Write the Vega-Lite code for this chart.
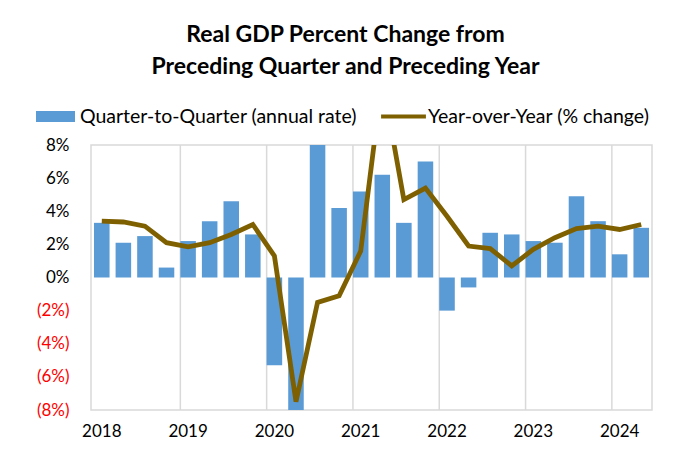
{
  "$schema": "https://vega.github.io/schema/vega-lite/v6.json",
  "width": 561,
  "height": 265,
  "autosize": {"type": "none"},
  "padding": {"left": 91, "top": 145, "right": 37, "bottom": 52},
  "background": "white",
  "config": {
    "font": "Lato",
    "view": {"stroke": "#d9d9d9", "strokeWidth": 1.5}
  },
  "title": {
    "text": ["Real GDP Percent Change from", "Preceding Quarter and Preceding Year"],
    "fontSize": 23,
    "fontWeight": "bold",
    "color": "#000000",
    "anchor": "middle",
    "frame": "group",
    "dx": -26,
    "lineHeight": 32,
    "offset": 18
  },
  "datasets": {
    "gdp": [
      {"q": "2018Q1", "qq": 3.3, "yoy": 3.4},
      {"q": "2018Q2", "qq": 2.1, "yoy": 3.35},
      {"q": "2018Q3", "qq": 2.5, "yoy": 3.1},
      {"q": "2018Q4", "qq": 0.6, "yoy": 2.1},
      {"q": "2019Q1", "qq": 2.2, "yoy": 1.85},
      {"q": "2019Q2", "qq": 3.4, "yoy": 2.1},
      {"q": "2019Q3", "qq": 4.6, "yoy": 2.6},
      {"q": "2019Q4", "qq": 2.6, "yoy": 3.2},
      {"q": "2020Q1", "qq": -5.3, "yoy": 1.3},
      {"q": "2020Q2", "qq": -28.0, "yoy": -7.5},
      {"q": "2020Q3", "qq": 34.8, "yoy": -1.5},
      {"q": "2020Q4", "qq": 4.2, "yoy": -1.1},
      {"q": "2021Q1", "qq": 5.2, "yoy": 1.6},
      {"q": "2021Q2", "qq": 6.2, "yoy": 12.0},
      {"q": "2021Q3", "qq": 3.3, "yoy": 4.7},
      {"q": "2021Q4", "qq": 7.0, "yoy": 5.4},
      {"q": "2022Q1", "qq": -2.0, "yoy": 3.7},
      {"q": "2022Q2", "qq": -0.6, "yoy": 1.9},
      {"q": "2022Q3", "qq": 2.7, "yoy": 1.75},
      {"q": "2022Q4", "qq": 2.6, "yoy": 0.7},
      {"q": "2023Q1", "qq": 2.2, "yoy": 1.7},
      {"q": "2023Q2", "qq": 2.1, "yoy": 2.4},
      {"q": "2023Q3", "qq": 4.9, "yoy": 2.95},
      {"q": "2023Q4", "qq": 3.4, "yoy": 3.1},
      {"q": "2024Q1", "qq": 1.4, "yoy": 2.9},
      {"q": "2024Q2", "qq": 3.0, "yoy": 3.2}
    ],
    "years": [
      {"q": "2019Q1"}, {"q": "2020Q1"}, {"q": "2021Q1"},
      {"q": "2022Q1"}, {"q": "2023Q1"}, {"q": "2024Q1"}
    ]
  },
  "encoding": {
    "x": {
      "field": "q",
      "type": "ordinal",
      "title": null,
      "scale": {"paddingInner": 0.28, "paddingOuter": 0.14},
      "axis": {
        "labelExpr": "substring(datum.value, 4) == 'Q1' ? substring(datum.value, 0, 4) : ''",
        "labelAngle": 0,
        "labelFontSize": 17,
        "labelColor": "#000000",
        "labelPadding": 13,
        "labelOverlap": false,
        "ticks": false,
        "domain": false,
        "grid": false
      }
    }
  },
  "layer": [
    {
      "data": {"name": "years"},
      "mark": {"type": "rule", "color": "#d9d9d9", "strokeWidth": 1.5},
      "encoding": {"x": {"field": "q", "type": "ordinal", "bandPosition": 0}}
    },
    {
      "data": {"name": "gdp"},
      "mark": {"type": "bar", "clip": true},
      "encoding": {
        "y": {
          "field": "qq",
          "type": "quantitative",
          "title": null,
          "scale": {"domain": [-8, 8], "nice": false},
          "axis": {
            "values": [-8, -6, -4, -2, 0, 2, 4, 6, 8],
            "labelExpr": "datum.value < 0 ? '(' + abs(datum.value) + '%)' : datum.value + '%'",
            "labelColor": {"condition": {"test": "datum.value < 0", "value": "#FF0000"}, "value": "#000000"},
            "labelFontSize": 17,
            "labelPadding": 22,
            "labelOverlap": false,
            "labelFlush": false,
            "ticks": false,
            "domain": false,
            "grid": false
          }
        },
        "color": {
          "datum": "Quarter-to-Quarter (annual rate)",
          "type": "nominal",
          "scale": {
            "domain": ["Quarter-to-Quarter (annual rate)", "Year-over-Year (% change)"],
            "range": ["#5B9BD5", "#7F6000"]
          },
          "legend": {
            "title": null,
            "orient": "none",
            "direction": "horizontal",
            "legendX": -55,
            "legendY": -48,
            "labelFontSize": 19.5,
            "labelColor": "#000000",
            "labelLimit": 400,
            "labelOffset": 5,
            "columnPadding": 24,
            "symbolSize": 1521,
            "symbolType": "M-1,-0.28H1V0.28H-1Z",
            "encode": {
              "symbols": {
                "update": {
                  "shape": {"signal": "datum.value === 'Year-over-Year (% change)' ? 'M-1.15,-0.1H1.15V0.1H-1.15Z' : 'M-1,-0.28H1V0.28H-1Z'"},
                  "fill": {"signal": "datum.value === 'Year-over-Year (% change)' ? '#7F6000' : '#5B9BD5'"},
                  "strokeWidth": {"value": 0},
                  "opacity": {"value": 1}
                }
              }
            }
          }
        }
      }
    },
    {
      "data": {"name": "gdp"},
      "mark": {"type": "rule", "color": "#d9d9d9", "strokeWidth": 1.5},
      "encoding": {
        "y": {
          "datum": 0,
          "type": "quantitative",
          "axis": {
            "values": [-8, -6, -4, -2, 0, 2, 4, 6, 8],
            "labelExpr": "datum.value < 0 ? '(' + abs(datum.value) + '%)' : datum.value + '%'",
            "labelColor": {"condition": {"test": "datum.value < 0", "value": "#FF0000"}, "value": "#000000"},
            "labelFontSize": 17,
            "labelPadding": 22,
            "labelOverlap": false,
            "labelFlush": false,
            "ticks": false,
            "domain": false,
            "grid": false
          }
        }
      }
    },
    {
      "data": {"name": "gdp"},
      "mark": {"type": "line", "clip": true, "strokeWidth": 4.8, "strokeJoin": "miter"},
      "encoding": {
        "y": {
          "field": "yoy",
          "type": "quantitative",
          "axis": {
            "values": [-8, -6, -4, -2, 0, 2, 4, 6, 8],
            "labelExpr": "datum.value < 0 ? '(' + abs(datum.value) + '%)' : datum.value + '%'",
            "labelColor": {"condition": {"test": "datum.value < 0", "value": "#FF0000"}, "value": "#000000"},
            "labelFontSize": 17,
            "labelPadding": 22,
            "labelOverlap": false,
            "labelFlush": false,
            "ticks": false,
            "domain": false,
            "grid": false
          }
        },
        "color": {"datum": "Year-over-Year (% change)", "type": "nominal"}
      }
    }
  ]
}
